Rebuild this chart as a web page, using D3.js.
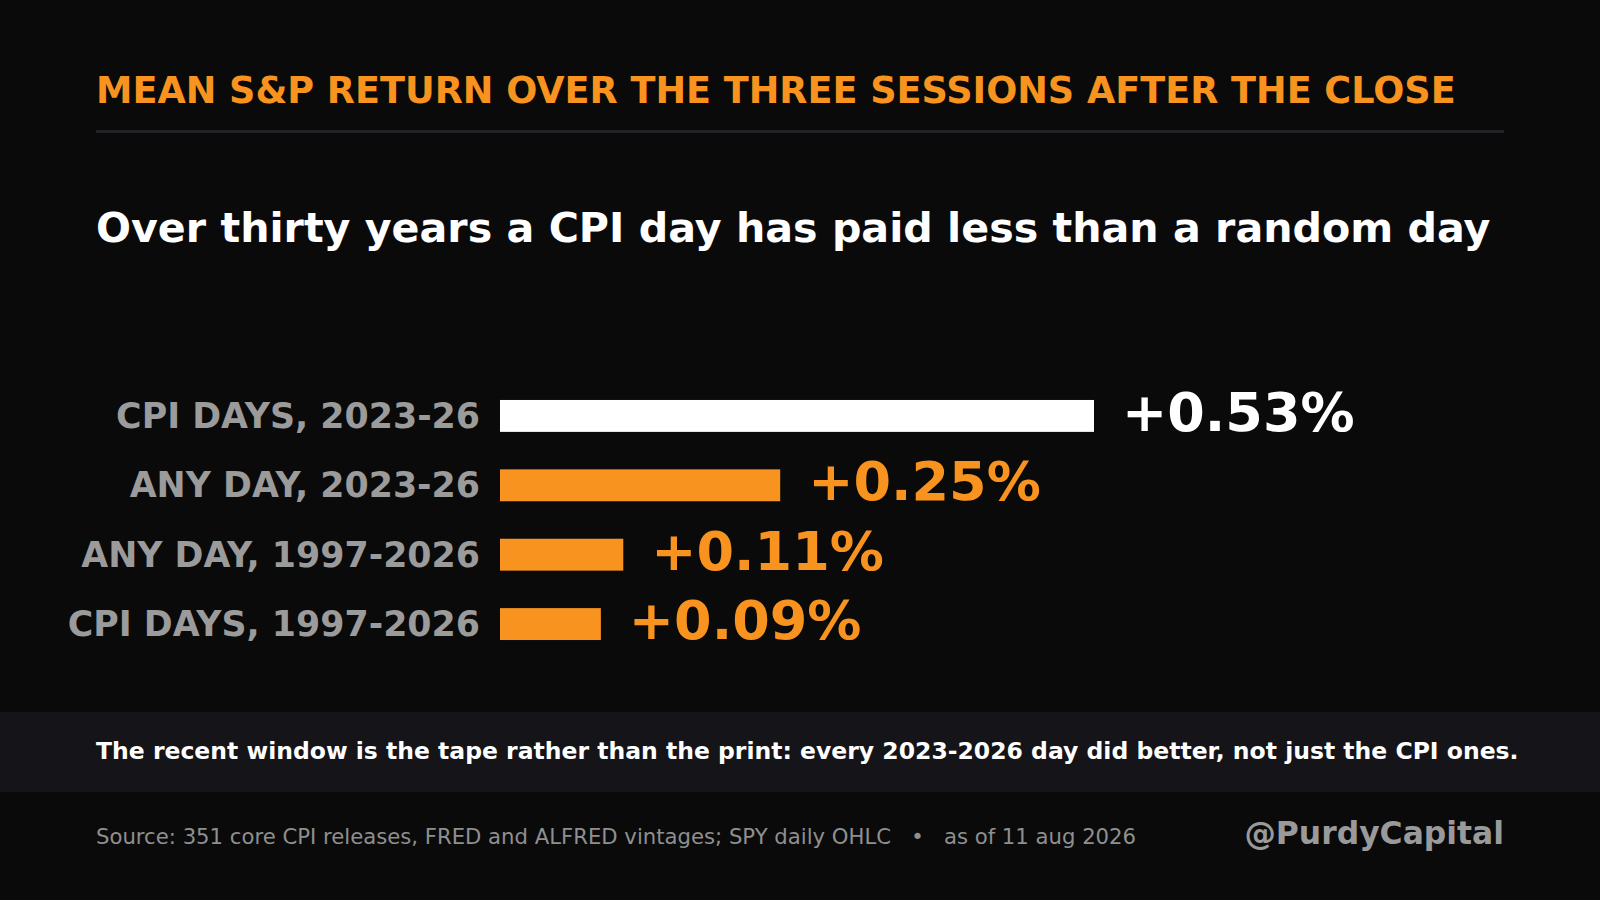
<!DOCTYPE html>
<html>
<head>
<meta charset="utf-8">
<script src="https://cdn.jsdelivr.net/npm/d3@7"></script>
<style>
  html, body { margin: 0; padding: 0; background: #0a0a0a; }
  svg { display: block; }
  text { font-family: "DejaVu Sans", sans-serif; }
</style>
</head>
<body>
<svg id="chart" width="1600" height="900"></svg>
<script>
const categories = ["CPI DAYS, 2023-26", "ANY DAY, 2023-26", "ANY DAY, 1997-2026", "CPI DAYS, 1997-2026"];
const values = [0.53, 0.25, 0.11, 0.09];
const highlight = [true, false, false, false];
const valueLabels = ["+0.53%", "+0.25%", "+0.11%", "+0.09%"];

const titleText = "MEAN S&P RETURN OVER THE THREE SESSIONS AFTER THE CLOSE";
const subtitleText = "Over thirty years a CPI day has paid less than a random day";
const noteText = "The recent window is the tape rather than the print: every 2023-2026 day did better, not just the CPI ones.";
const sourceText = "Source: 351 core CPI releases, FRED and ALFRED vintages; SPY daily OHLC   \u2022   as of 11 aug 2026";
const handleText = "@PurdyCapital";

const W = 1600, H = 900;
const ORANGE = "#f7931e";
const svg = d3.select("#chart");

svg.append("rect").attr("width", W).attr("height", H).attr("fill", "#0a0a0a");

// Title
svg.append("text")
  .attr("x", 96).attr("y", 103)
  .attr("fill", ORANGE)
  .attr("font-size", 36.6).attr("font-weight", "bold")
  .text(titleText);

svg.append("line")
  .attr("x1", 96).attr("x2", 1504)
  .attr("y1", 131.5).attr("y2", 131.5)
  .attr("stroke", "#232327").attr("stroke-width", 3);

svg.append("text")
  .attr("x", 96).attr("y", 242)
  .attr("fill", "#ffffff")
  .attr("font-size", 41.2).attr("font-weight", "bold")
  .text(subtitleText);

// Bars
const data = categories.map((c, i) => ({ cat: c, v: values[i], hi: highlight[i], lab: valueLabels[i] }));

const x = d3.scaleLinear().domain([0, 0.53]).range([500, 1094]);
const y = d3.scaleBand().domain(categories).range([362.5, 677.5]).paddingInner(0.54).paddingOuter(0.54);

const g = svg.append("g");

g.selectAll("rect.bar").data(data).join("rect")
  .attr("class", "bar")
  .attr("x", x(0))
  .attr("y", d => y(d.cat))
  .attr("width", d => x(d.v) - x(0))
  .attr("height", y.bandwidth())
  .attr("fill", d => d.hi ? "#ffffff" : ORANGE);

g.selectAll("text.cat").data(data).join("text")
  .attr("class", "cat")
  .attr("x", x(0) - 20)
  .attr("y", d => y(d.cat) + y.bandwidth() / 2 + 12)
  .attr("text-anchor", "end")
  .attr("fill", "#9b9b9b")
  .attr("font-size", 34.8).attr("font-weight", "bold")
  .text(d => d.cat);

g.selectAll("text.val").data(data).join("text")
  .attr("class", "val")
  .attr("x", d => x(d.v) + 28)
  .attr("y", d => y(d.cat) + y.bandwidth() / 2 + 15)
  .attr("fill", d => d.hi ? "#ffffff" : ORANGE)
  .attr("font-size", 54).attr("font-weight", "bold")
  .text(d => d.lab);

// Note band
svg.append("rect")
  .attr("x", 0).attr("y", 712).attr("width", W).attr("height", 80)
  .attr("fill", "#141419");

svg.append("text")
  .attr("x", 96).attr("y", 759)
  .attr("fill", "#ffffff")
  .attr("font-size", 23.5).attr("font-weight", "bold")
  .text(noteText);

svg.append("text")
  .attr("x", 96).attr("y", 844)
  .attr("fill", "#8f8f8f")
  .attr("font-size", 21.2)
  .style("white-space", "pre")
  .text(sourceText);

svg.append("text")
  .attr("x", 1504).attr("y", 844)
  .attr("text-anchor", "end")
  .attr("fill", "#9a9a9a")
  .attr("font-size", 31.4).attr("font-weight", "bold")
  .text(handleText);
</script>
</body>
</html>
